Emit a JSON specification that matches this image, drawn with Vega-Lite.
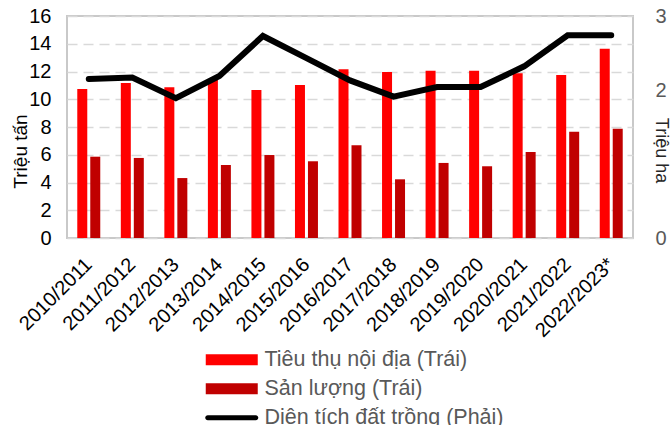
{
  "$schema": "https://vega.github.io/schema/vega-lite/v6.json",
  "width": 566,
  "height": 222,
  "autosize": {"type": "none"},
  "padding": {"left": 67, "top": 16, "right": 38, "bottom": 187},
  "config": {
    "font": "Liberation Sans",
    "view": {"stroke": "#c9c9c9", "strokeWidth": 2}
  },
  "datasets": {
    "bars": [
      {"year": "2010/2011", "series": "Tiêu thụ nội địa (Trái)", "value": 10.74},
      {"year": "2010/2011", "series": "Sản lượng (Trái)", "value": 5.86},
      {"year": "2011/2012", "series": "Tiêu thụ nội địa (Trái)", "value": 11.17},
      {"year": "2011/2012", "series": "Sản lượng (Trái)", "value": 5.77},
      {"year": "2012/2013", "series": "Tiêu thụ nội địa (Trái)", "value": 10.86},
      {"year": "2012/2013", "series": "Sản lượng (Trái)", "value": 4.32},
      {"year": "2013/2014", "series": "Tiêu thụ nội địa (Trái)", "value": 11.39},
      {"year": "2013/2014", "series": "Sản lượng (Trái)", "value": 5.26},
      {"year": "2014/2015", "series": "Tiêu thụ nội địa (Trái)", "value": 10.67},
      {"year": "2014/2015", "series": "Sản lượng (Trái)", "value": 5.98},
      {"year": "2015/2016", "series": "Tiêu thụ nội địa (Trái)", "value": 11.03},
      {"year": "2015/2016", "series": "Sản lượng (Trái)", "value": 5.53},
      {"year": "2016/2017", "series": "Tiêu thụ nội địa (Trái)", "value": 12.16},
      {"year": "2016/2017", "series": "Sản lượng (Trái)", "value": 6.68},
      {"year": "2017/2018", "series": "Tiêu thụ nội địa (Trái)", "value": 11.96},
      {"year": "2017/2018", "series": "Sản lượng (Trái)", "value": 4.23},
      {"year": "2018/2019", "series": "Tiêu thụ nội địa (Trái)", "value": 12.06},
      {"year": "2018/2019", "series": "Sản lượng (Trái)", "value": 5.41},
      {"year": "2019/2020", "series": "Tiêu thụ nội địa (Trái)", "value": 12.06},
      {"year": "2019/2020", "series": "Sản lượng (Trái)", "value": 5.17},
      {"year": "2020/2021", "series": "Tiêu thụ nội địa (Trái)", "value": 11.87},
      {"year": "2020/2021", "series": "Sản lượng (Trái)", "value": 6.2},
      {"year": "2021/2022", "series": "Tiêu thụ nội địa (Trái)", "value": 11.75},
      {"year": "2021/2022", "series": "Sản lượng (Trái)", "value": 7.66},
      {"year": "2022/2023*", "series": "Tiêu thụ nội địa (Trái)", "value": 13.64},
      {"year": "2022/2023*", "series": "Sản lượng (Trái)", "value": 7.88}
    ],
    "area": [
      {"year": "2010/2011", "series": "Diện tích đất trồng (Phải)", "value": 2.15},
      {"year": "2011/2012", "series": "Diện tích đất trồng (Phải)", "value": 2.17},
      {"year": "2012/2013", "series": "Diện tích đất trồng (Phải)", "value": 1.89},
      {"year": "2013/2014", "series": "Diện tích đất trồng (Phải)", "value": 2.19},
      {"year": "2014/2015", "series": "Diện tích đất trồng (Phải)", "value": 2.73},
      {"year": "2015/2016", "series": "Diện tích đất trồng (Phải)", "value": 2.43},
      {"year": "2016/2017", "series": "Diện tích đất trồng (Phải)", "value": 2.13},
      {"year": "2017/2018", "series": "Diện tích đất trồng (Phải)", "value": 1.91},
      {"year": "2018/2019", "series": "Diện tích đất trồng (Phải)", "value": 2.04},
      {"year": "2019/2020", "series": "Diện tích đất trồng (Phải)", "value": 2.04},
      {"year": "2020/2021", "series": "Diện tích đất trồng (Phải)", "value": 2.32},
      {"year": "2021/2022", "series": "Diện tích đất trồng (Phải)", "value": 2.74},
      {"year": "2022/2023*", "series": "Diện tích đất trồng (Phải)", "value": 2.74}
    ]
  },
  "encoding": {
    "x": {
      "field": "year",
      "type": "nominal",
      "sort": null,
      "scale": {"paddingInner": 0.472, "paddingOuter": 0.236},
      "axis": {
        "title": null,
        "domain": false,
        "ticks": false,
        "labelAngle": -45,
        "labelAlign": "right",
        "labelBaseline": "top",
        "labelPadding": 16,
        "labelOffset": -7,
        "labelFontSize": 20,
        "labelColor": "#000000"
      }
    }
  },
  "layer": [
    {
      "data": {"name": "bars"},
      "mark": {"type": "bar"},
      "encoding": {
        "xOffset": {
          "field": "series",
          "type": "nominal",
          "sort": ["Tiêu thụ nội địa (Trái)", "Sản lượng (Trái)"],
          "scale": {"paddingInner": 0.23, "paddingOuter": 0}
        },
        "y": {
          "field": "value",
          "type": "quantitative",
          "scale": {"domain": [0, 16], "nice": false},
          "axis": {
            "values": [0, 2, 4, 6, 8, 10, 12, 14, 16],
            "title": "Triệu tấn",
            "titleFontSize": 19,
            "titleFontWeight": "normal",
            "titleColor": "#000000",
            "titleAngle": -90,
            "titleX": -47,
            "titleY": 135,
            "titleAlign": "center",
            "titleBaseline": "middle",
            "labelFontSize": 20,
            "labelColor": "#000000",
            "labelPadding": 16,
            "ticks": false,
            "domain": false,
            "grid": true,
            "gridColor": "#d9d9d9",
            "gridWidth": 1.5,
            "gridDash": [10, 6]
          }
        },
        "color": {
          "field": "series",
          "type": "nominal",
          "scale": {
            "domain": ["Tiêu thụ nội địa (Trái)", "Sản lượng (Trái)", "Diện tích đất trồng (Phải)"],
            "range": ["#ff0000", "#c00000", "#000000"]
          },
          "legend": {
            "orient": "none",
            "legendX": 154,
            "legendY": 333,
            "direction": "vertical",
            "title": null,
            "labelFontSize": 21.5,
            "labelColor": "#595959",
            "labelLimit": 0,
            "symbolSize": 400,
            "symbolType": "M-2.6,-0.55H2.6V0.55H-2.6Z",
            "symbolStrokeWidth": 0,
            "rowPadding": 6,
            "labelOffset": 22,
            "padding": 0,
            "encode": {
              "symbols": {
                "update": {
                  "shape": {"signal": "datum.value === 'Diện tích đất trồng (Phải)' ? 'M-2.4,-0.25H2.4A0.25,0.25,0,0,1,2.4,0.25H-2.4A0.25,0.25,0,0,1,-2.4,-0.25Z' : 'M-2.6,-0.55H2.6V0.55H-2.6Z'"},
                  "fill": {"signal": "scale('color', datum.value)"},
                  "strokeWidth": {"value": 0}
                }
              }
            }
          }
        }
      }
    },
    {
      "data": {"name": "area"},
      "mark": {"type": "line", "strokeWidth": 6, "strokeCap": "round", "strokeJoin": "miter"},
      "encoding": {
        "y": {
          "field": "value",
          "type": "quantitative",
          "scale": {"domain": [0, 3], "nice": false},
          "axis": {
            "orient": "right",
            "values": [0, 2, 3],
            "title": "Triệu ha",
            "titleFontSize": 18,
            "titleFontWeight": "normal",
            "titleColor": "#262626",
            "titleAngle": 90,
            "titleX": 27,
            "titleY": 134,
            "titleAlign": "center",
            "titleBaseline": "middle",
            "labelFontSize": 20,
            "labelColor": "#595959",
            "labelPadding": 22,
            "ticks": false,
            "domain": false,
            "grid": false
          }
        },
        "color": {"field": "series", "type": "nominal"}
      }
    }
  ],
  "resolve": {"scale": {"y": "independent"}}
}
